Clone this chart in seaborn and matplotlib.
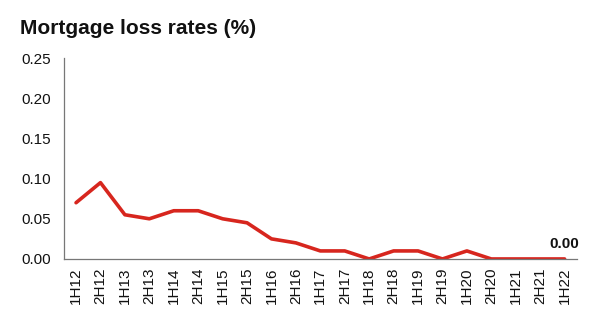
import matplotlib
matplotlib.use("Agg")
import matplotlib.pyplot as plt
import seaborn as sns
import pandas as pd

periods = ["1H12", "2H12", "1H13", "2H13", "1H14", "2H14", "1H15", "2H15",
           "1H16", "2H16", "1H17", "2H17", "1H18", "2H18", "1H19", "2H19",
           "1H20", "2H20", "1H21", "2H21", "1H22"]
loss_rates = [0.07, 0.095, 0.055, 0.05, 0.06, 0.06, 0.05, 0.045,
              0.025, 0.02, 0.01, 0.01, 0.0, 0.01, 0.01, 0.0,
              0.01, 0.0, 0.0, 0.0, 0.0]
y_ticks = [0.00, 0.05, 0.10, 0.15, 0.20, 0.25]

sns.set_theme(style="white")
plt.rcParams["font.family"] = ["Liberation Sans", "DejaVu Sans"]

df = pd.DataFrame({"period": periods, "rate": loss_rates})

fig = plt.figure(figsize=(5.91, 3.32), dpi=100)
ax = fig.add_axes([0.108, 0.220, 0.868, 0.605])

sns.lineplot(data=df, x="period", y="rate", ax=ax, color="#D7261E",
             linewidth=2.6, sort=False)

ax.set_xlim(-0.5, len(periods) - 0.5)
ax.set_ylim(0, 0.25)
ax.set_yticks(y_ticks)
ax.set_yticklabels([f"{v:.2f}" for v in y_ticks], fontsize=11, color="#111111")
ax.set_xticks(range(len(periods)))
ax.set_xticklabels(periods, rotation=90, fontsize=11, color="#111111")
ax.tick_params(axis="y", length=0, pad=9)
ax.tick_params(axis="x", length=0, pad=6)
ax.set_xlabel("")
ax.set_ylabel("")

for side in ["top", "right"]:
    ax.spines[side].set_visible(False)
for side in ["left", "bottom"]:
    ax.spines[side].set_color("#777777")
    ax.spines[side].set_linewidth(0.9)

# label the latest value
ax.annotate(f"{loss_rates[-1]:.2f}", (len(periods) - 1, loss_rates[-1]),
            xytext=(0, 6), textcoords="offset points", ha="center", va="bottom",
            fontsize=11, fontweight="bold", color="#111111")

fig.text(20 / 591, 1 - 28 / 332, "Mortgage loss rates (%)", fontsize=15,
         fontweight="bold", ha="left", va="center", color="#111111")

fig.savefig("out.png", dpi=100)
